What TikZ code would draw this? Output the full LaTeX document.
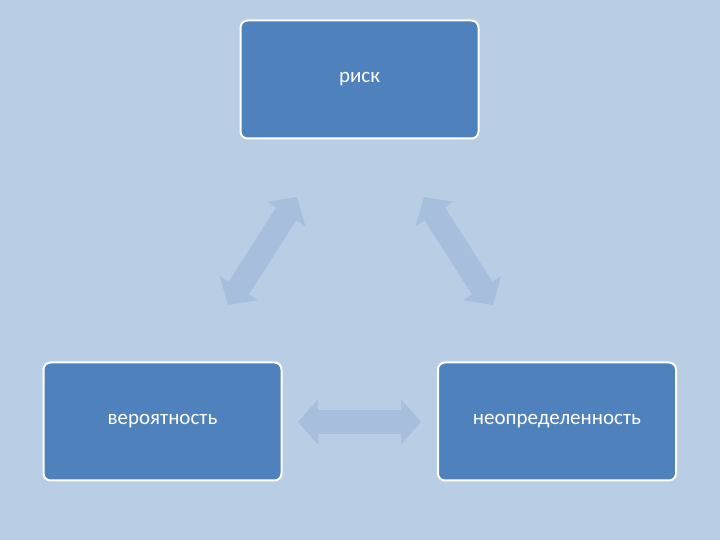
\documentclass[tikz,border=0pt]{standalone}
\usepackage{fontspec}
\setmainfont{Carlito}
\usetikzlibrary{arrows.meta}
\definecolor{bg}{HTML}{B9CDE5}
\definecolor{boxc}{HTML}{4F81BD}
\definecolor{arr}{HTML}{A7BEDC}
\begin{document}
\begin{tikzpicture}[x=1pt,y=1pt,
  box/.style={draw=white,line width=2pt,fill=boxc,rounded corners=7pt,minimum width=238pt,minimum height=118pt,text=white,font=\fontsize{21}{25}\selectfont},
  barrow/.style={arr,line width=24pt,{Triangle[width=44pt,length=20pt]}-{Triangle[width=44pt,length=20pt]}}]
\fill[bg] (0,0) rectangle (720,540);
\node[box] (top) at (359.5,460.5) {риск};
\node[box] (left) at (162.5,118.5) {вероятность};
\node[box] (right) at (557,118.5) {неопределенность};
\coordinate (a1) at (297,343); \coordinate (a2) at (228,235);
\coordinate (b1) at (424,343); \coordinate (b2) at (493,235);
\coordinate (c1) at (298,118); \coordinate (c2) at (421,118);
\draw[barrow] (a1) -- (a2);
\draw[barrow] (b1) -- (b2);
\draw[barrow] (c1) -- (c2);
\end{tikzpicture}
\end{document}
